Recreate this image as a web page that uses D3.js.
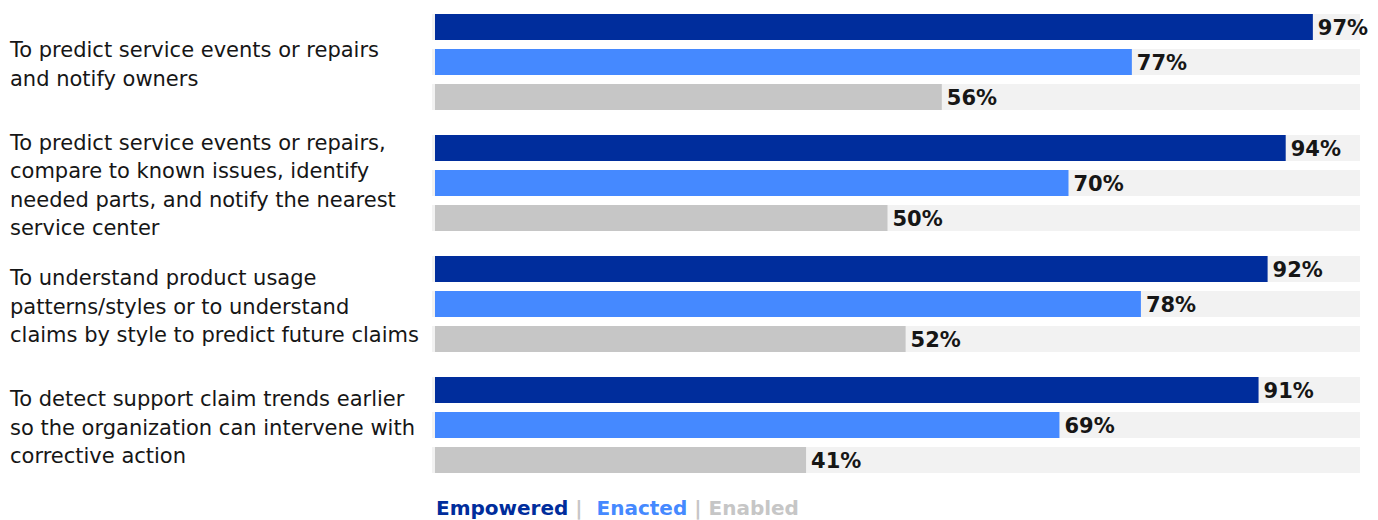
<!DOCTYPE html>
<html>
<head>
<meta charset="utf-8">
<script src="https://cdn.jsdelivr.net/npm/d3@7"></script>
<style>
  html, body { margin: 0; padding: 0; background: #ffffff; }
  svg { display: block; }
</style>
</head>
<body>
<svg id="chart" width="1378" height="520"></svg>
<script>
// ---- data ----
const categories = [
  "To predict service events or repairs and notify owners",
  "To predict service events or repairs, compare to known issues, identify needed parts, and notify the nearest service center",
  "To understand product usage patterns/styles or to understand claims by style to predict future claims",
  "To detect support claim trends earlier so the organization can intervene with corrective action"
];
const categoryLines = [
  ["To predict service events or repairs", "and notify owners"],
  ["To predict service events or repairs,", "compare to known issues, identify", "needed parts, and notify the nearest", "service center"],
  ["To understand product usage", "patterns/styles or to understand", "claims by style to predict future claims"],
  ["To detect support claim trends earlier", "so the organization can intervene with", "corrective action"]
];
const seriesNames = ["Empowered", "Enacted", "Enabled"];
const empowered = [97, 94, 92, 91];
const enacted = [77, 70, 78, 69];
const enabled = [56, 50, 52, 41];
const seriesValues = [empowered, enacted, enabled];

// ---- styles ----
const colors = ["#002d9c", "#4589ff", "#c6c6c6"];
const trackColor = "#f2f2f2";
const labelFont = "'DejaVu Sans', sans-serif";

const svg = d3.select("#chart");

const y0 = d3.scaleBand().domain(categories).range([14, 473]).paddingInner(25 / 121).paddingOuter(0);
const y1 = d3.scaleBand().domain(seriesNames).range([0, y0.bandwidth()]).paddingInner(9 / 35).paddingOuter(0);
const x = d3.scaleLinear().domain([0, 100]).range([435, 1340]);

const rows = [];
categories.forEach((c, i) => {
  seriesNames.forEach((s, j) => {
    rows.push({ cat: c, ci: i, series: s, si: j, value: seriesValues[j][i] });
  });
});

// tracks
svg.append("g").selectAll("rect").data(rows).join("rect")
  .attr("x", 432)
  .attr("y", d => y0(d.cat) + y1(d.series))
  .attr("width", 1360 - 432)
  .attr("height", y1.bandwidth())
  .attr("fill", trackColor);

// bars
svg.append("g").selectAll("rect").data(rows).join("rect")
  .attr("x", x(0))
  .attr("y", d => y0(d.cat) + y1(d.series))
  .attr("width", d => x(d.value) - x(0))
  .attr("height", y1.bandwidth())
  .attr("fill", d => colors[d.si]);

// value labels
svg.append("g").selectAll("text").data(rows).join("text")
  .attr("x", d => x(d.value) + 5)
  .attr("y", d => y0(d.cat) + y1(d.series) + y1.bandwidth() / 2 + 8)
  .attr("font-family", "'DejaVu Sans', sans-serif")
  .attr("font-weight", 700)
  .attr("font-size", 21)
  .attr("fill", "#161616")
  .text(d => d.value + "%");

// category labels
const lineH = 28.5;
const capH = 15.3;
const catG = svg.append("g");
categories.forEach((c, i) => {
  const lines = categoryLines[i];
  const center = y0(c) + y0.bandwidth() / 2 + 2;
  const blockH = (lines.length - 1) * lineH + capH;
  const firstBase = center - blockH / 2 + capH;
  const t = catG.append("text")
    .attr("font-family", labelFont)
    .attr("font-size", 21)
    .attr("fill", "#161616");
  lines.forEach((ln, k) => {
    t.append("tspan").attr("x", 10).attr("y", firstBase + k * lineH).text(ln);
  });
});

// legend
const legend = svg.append("text")
  .attr("x", 436)
  .attr("y", 515)
  .attr("font-family", "'DejaVu Sans', sans-serif")
  .attr("font-weight", 700)
  .attr("font-size", 20)
  .attr("xml:space", "preserve")
  .style("white-space", "pre");
seriesNames.forEach((s, j) => {
  if (j > 0) {
    legend.append("tspan").attr("fill", "#c6c6c6").text(j === 1 ? " |  " : " | ");
  }
  legend.append("tspan").attr("fill", colors[j]).text(s);
});
</script>
</body>
</html>
